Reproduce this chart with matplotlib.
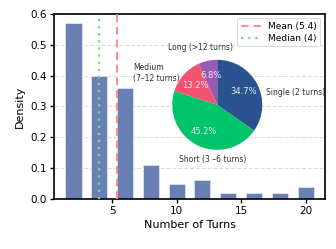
import matplotlib
matplotlib.use("Agg")
import matplotlib.pyplot as plt

# histogram of turns per dialogue
turns = [2, 4, 6, 8, 10, 12, 14, 16, 18, 20]
density = [0.57, 0.40, 0.36, 0.11, 0.05, 0.06, 0.02, 0.02, 0.02, 0.04]
mean_turns = 5.4
median_turns = 4

# pie inset
pie_labels = ["Single (2 turns)", "Short (3 \u20136 turns)", "Medium\n(7\u201312 turns)", "Long (>12 turns)"]
pie_share = [34.7, 45.2, 13.2, 6.8]
pie_colors = ["#29528f", "#00c46a", "#f2546e", "#9b59b6"]
# label spots in pie data units (radius = 1)
label_pos = [(1.09, 0.27, "left"), (-0.11, -1.22, "center"), (-0.84, 0.71, "right"), (-0.38, 1.27, "center")]

fig = plt.figure(figsize=(3.36, 2.49), dpi=100)
ax = fig.add_axes([0.161, 0.201, 0.806, 0.743])

ax.bar(turns, density, width=1.25, color="#6a80b4", edgecolor="#dfe4ef", linewidth=0.6, zorder=2)
ax.axvline(mean_turns, color="#ff8c8c", ls=(0, (4, 2.5)), lw=1.4, label=f"Mean ({mean_turns})", zorder=3)
ax.axvline(median_turns, color="#6fdc8c", ls=(0, (1, 2.2)), lw=1.6, label=f"Median ({median_turns})", zorder=3)

ax.set_xlim(0.5, 21.5)
ax.set_ylim(0, 0.6)
ax.set_xticks([5, 10, 15, 20])
ax.set_yticks([0.0, 0.1, 0.2, 0.3, 0.4, 0.5, 0.6])
ax.tick_params(labelsize=7.5, length=3, width=1, color="black", pad=2)
ax.yaxis.grid(True, ls="--", color="#dddddd", lw=0.8, zorder=0)
for s in ax.spines.values():
    s.set_color("black")
    s.set_linewidth(1.2)
ax.set_xlabel("Number of Turns", fontsize=8, labelpad=3)
ax.set_ylabel("Density", fontsize=8, labelpad=4)

leg = ax.legend(loc="upper right", fontsize=6.5, frameon=True, handlelength=2.2,
                borderpad=0.4, labelspacing=0.3, handletextpad=0.8)
leg.get_frame().set_edgecolor("#cccccc")
leg.get_frame().set_linewidth(0.6)

pax = fig.add_axes([0.479, 0.353, 0.335, 0.452])
wedges, texts, autotexts = pax.pie(pie_share, colors=pie_colors, startangle=90, counterclock=False,
                                   autopct="%1.1f%%", pctdistance=0.66,
                                   textprops={"fontsize": 6, "color": "#e6e9f2"})
for (x, y, ha), lab in zip(label_pos, pie_labels):
    pax.text(x, y, lab, ha=ha, va="center", multialignment="left", fontsize=5.5, color="#333333")
pax.set_aspect("equal")

fig.savefig("out.png", dpi=100)
